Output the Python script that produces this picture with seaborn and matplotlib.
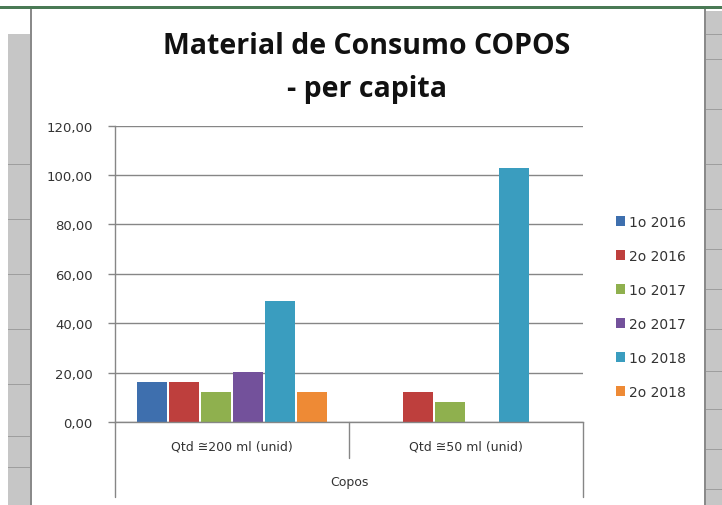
import matplotlib
matplotlib.use("Agg")
import matplotlib.pyplot as plt
import matplotlib.patches as mpatches
import numpy as np
import pandas as pd
import seaborn as sns

# ── Data ──────────────────────────────────────────────────────────────────────
categorias = ["Qtd \u2245200 ml (unid)", "Qtd \u224550 ml (unid)"]
periodos = ["1o 2016", "2o 2016", "1o 2017", "2o 2017", "1o 2018", "2o 2018"]
valores_200ml = [16.2, 16.2, 12.2, 20.2, 49.0, 12.2]
valores_50ml = [np.nan, 12.2, 8.2, np.nan, 102.8, np.nan]
cores = ["#3E6FAE", "#BE3F3D", "#8FB04E", "#73519B", "#3A9DBF", "#EE8A35"]
y_ticks = [0, 20, 40, 60, 80, 100, 120]

df = pd.DataFrame({
    "categoria": [categorias[0]] * len(periodos) + [categorias[1]] * len(periodos),
    "periodo": periodos * 2,
    "valor": valores_200ml + valores_50ml,
})

W, H = 722, 506
sns.set_style("white")
plt.rcParams["font.family"] = ["DejaVu Sans"]
fig = plt.figure(figsize=(W / 100, H / 100), dpi=100)

# ── Spreadsheet surroundings ─────────────────────────────────────────────────
def px_rect(x0, y0, x1, y1, **kw):
    fig.patches.append(mpatches.Rectangle((x0 / W, 1 - y1 / H), (x1 - x0) / W, (y1 - y0) / H,
                                          transform=fig.transFigure, **kw))

px_rect(8, 35, 30, H, facecolor="#c6c6c6", edgecolor="none")
px_rect(706, 12, W, H, facecolor="#c6c6c6", edgecolor="none")
px_rect(0, 7, W, 10, facecolor="#4a7a55", edgecolor="none")
for yy in [165, 220, 275, 330, 385, 437, 468]:
    px_rect(8, yy, 30, yy + 1, facecolor="#9e9e9e", edgecolor="none")
for yy in [35, 60, 110, 165, 210, 250, 290, 330, 372, 410, 450, 490]:
    px_rect(706, yy, W, yy + 1, facecolor="#9e9e9e", edgecolor="none")
px_rect(30, 10, 32, H, facecolor="#8a8a8a", edgecolor="none")
px_rect(704, 10, 706, H, facecolor="#8a8a8a", edgecolor="none")

# ── Chart ────────────────────────────────────────────────────────────────────
ax = fig.add_axes([115 / W, 1 - 423.3 / H, 468 / W, (423.3 - 126.5) / H])
sns.barplot(data=df, x="categoria", y="valor", hue="periodo", hue_order=periodos,
            order=categorias, palette=cores, saturation=1, width=0.82, gap=0.06,
            linewidth=0, ax=ax, legend=True)

ax.set_ylim(0, 120)
ax.set_xlim(-0.5, 1.5)
ax.set_yticks(y_ticks)
ax.set_yticklabels([f"{v:.2f}".replace(".", ",") for v in y_ticks], fontsize=9.5, color="#333333")
ax.yaxis.grid(True, color="#868686", linewidth=1)
ax.set_axisbelow(True)
ax.tick_params(axis="y", length=5, width=1, color="#868686", pad=11, left=True)
ax.set_xticks([])
ax.set_xlabel("")
ax.set_ylabel("")
for side in ["top", "right"]:
    ax.spines[side].set_visible(False)
for side in ["left", "bottom"]:
    ax.spines[side].set_color("#868686")
    ax.spines[side].set_linewidth(1)

# multi-level category axis
trans = ax.get_xaxis_transform()
for xb, depth in [(-0.5, -0.25), (0.5, -0.12), (1.5, -0.25)]:
    ax.plot([xb, xb], [0, depth], transform=trans, color="#868686", lw=1, clip_on=False)
for i, cat in enumerate(categorias):
    ax.text(i, -0.08, cat, transform=trans, ha="center", va="center",
            fontsize=9, color="#333333")
ax.text(0.5, -0.20, "Copos", transform=trans, ha="center", va="center",
        fontsize=9, color="#333333")

# legend
handles, labels = ax.get_legend_handles_labels()
ax.legend(handles, labels, loc="upper left", bbox_to_anchor=(603 / W, 1 - 203 / H),
          bbox_transform=fig.transFigure, frameon=False, fontsize=10,
          handlelength=0.7, handleheight=0.7, handletextpad=0.3, labelspacing=1.45,
          labelcolor="#333333")

fig.text(367 / W, 1 - 46 / H, "Material de Consumo COPOS", ha="center", va="center",
         fontsize=20.5, fontweight="bold", family=["Open Sans", "DejaVu Sans"], color="#111111")
fig.text(367 / W, 1 - 89 / H, "- per capita", ha="center", va="center",
         fontsize=20.5, fontweight="bold", family=["Open Sans", "DejaVu Sans"], color="#111111")

fig.savefig("out.png", dpi=100)
